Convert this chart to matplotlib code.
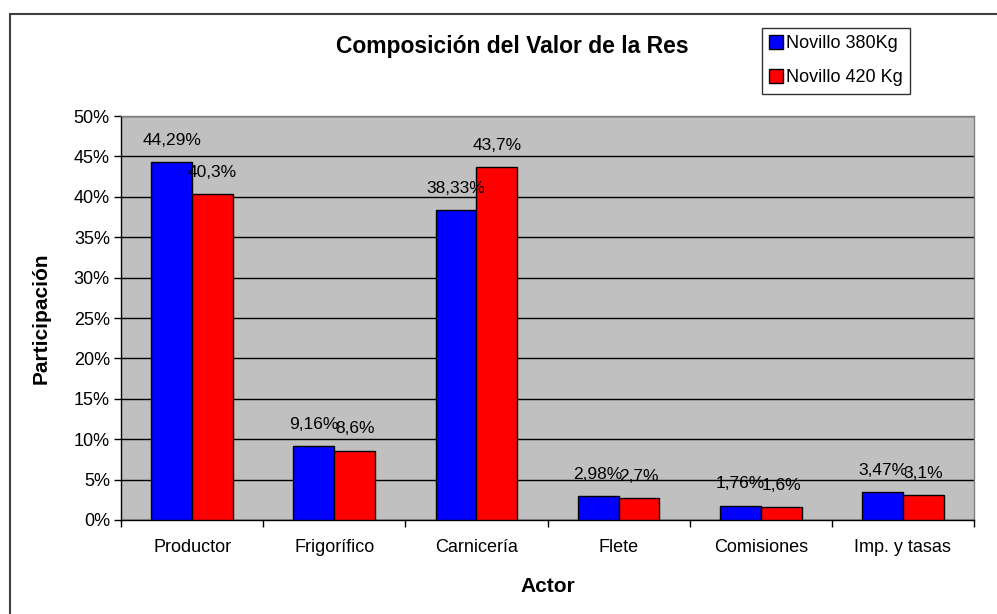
import matplotlib
matplotlib.use("Agg")
import matplotlib.pyplot as plt
import numpy as np
from matplotlib.patches import Rectangle

categories = ["Productor", "Frigorífico", "Carnicería", "Flete", "Comisiones", "Imp. y tasas"]
novillo_380 = [44.29, 9.16, 38.33, 2.98, 1.76, 3.47]
novillo_420 = [40.3, 8.6, 43.7, 2.7, 1.6, 3.1]
labels_380 = ["44,29%", "9,16%", "38,33%", "2,98%", "1,76%", "3,47%"]
labels_420 = ["40,3%", "8,6%", "43,7%", "2,7%", "1,6%", "3,1%"]
yticks = [0, 5, 10, 15, 20, 25, 30, 35, 40, 45, 50]

plt.rcParams["font.family"] = ["Liberation Sans", "DejaVu Sans"]

fig = plt.figure(figsize=(9.97, 6.14), dpi=100)
# outer chart border
fig.patches.append(Rectangle((10 / 997, -0.01), 1.0, 1 - 14 / 614 + 0.01,
                             transform=fig.transFigure, fill=False,
                             edgecolor="#404040", linewidth=1.5))

ax = fig.add_axes([121 / 997, 94 / 614, 853 / 997, 404 / 614])
ax.set_facecolor("#C0C0C0")

x = np.arange(len(categories))
w = 0.287
ax.bar(x - w / 2, novillo_380, w, color="#0000FF", edgecolor="black", linewidth=1, zorder=3, label="Novillo 380Kg")
ax.bar(x + w / 2, novillo_420, w, color="#FF0000", edgecolor="black", linewidth=1, zorder=3, label="Novillo 420 Kg")

for xi, v, s in zip(x, novillo_380, labels_380):
    ax.text(xi - w / 2, v + 2.7, s, ha="center", va="center", fontsize=12.5, zorder=4)
for xi, v, s in zip(x, novillo_420, labels_420):
    ax.text(xi + w / 2, v + 2.7, s, ha="center", va="center", fontsize=12.5, zorder=4)

ax.set_xlim(-0.5, len(categories) - 0.5)
ax.set_ylim(0, 50)
ax.set_yticks(yticks)
ax.set_yticklabels([f"{t}%" for t in yticks], fontsize=13)
ax.yaxis.grid(True, color="black", linewidth=1, zorder=1)
ax.set_axisbelow(True)

ax.set_xticks(x)
ax.set_xticklabels(categories, fontsize=13)
ax.tick_params(axis="x", length=0, pad=14)
ax.set_xticks(np.arange(-0.5, len(categories)), minor=True)
ax.tick_params(axis="x", which="minor", length=5, direction="out", width=1)
ax.tick_params(axis="y", length=5, direction="out", width=1, pad=3)

for side in ["left", "bottom"]:
    ax.spines[side].set_color("black")
    ax.spines[side].set_linewidth(1)
for side in ["top", "right"]:
    ax.spines[side].set_color("#808080")
    ax.spines[side].set_linewidth(1)

ax.set_xlabel("Actor", fontsize=15, fontweight="bold", labelpad=15)
ax.set_ylabel("Participación", fontsize=15, fontweight="bold", labelpad=17)

fig.text(512 / 997, 1 - 53 / 614, "Composición del Valor de la Res", ha="center", va="baseline",
         fontsize=16.5, fontweight="bold")

leg = fig.legend(loc="upper left", bbox_to_anchor=(762 / 997, 1 - 28 / 614), fontsize=13,
                 frameon=True, fancybox=False, edgecolor="black", handlelength=0.75, handleheight=0.75,
                 handletextpad=0.2, labelspacing=0.95, borderpad=0.4, borderaxespad=0)
leg.get_frame().set_linewidth(1)

fig.savefig("out.png", dpi=100)
